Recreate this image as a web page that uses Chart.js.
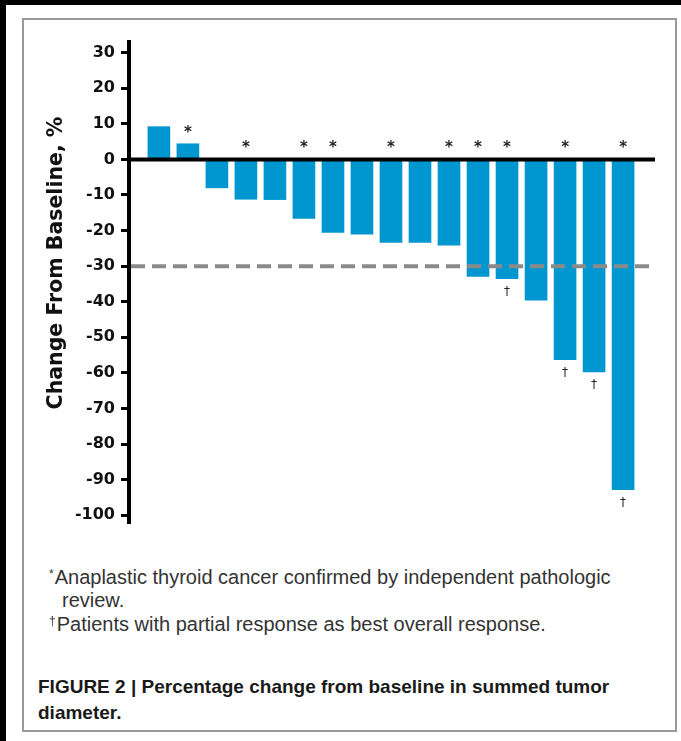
<!DOCTYPE html>
<html>
<head>
<meta charset="utf-8">
<script src="https://cdn.jsdelivr.net/npm/chart.js@4.4.1/dist/chart.umd.min.js"></script>
<style>
  html, body { margin: 0; padding: 0; background: #fff; }
  body { width: 681px; height: 741px; position: relative; overflow: hidden; }
  .band-top { position: absolute; left: 0; top: 0; width: 681px; height: 5px; background: #000; }
  .band-left { position: absolute; left: 0; top: 0; width: 6px; height: 741px; background: #000; }
  .frame { position: absolute; left: 22px; top: 18px; width: 651px; height: 710px; border: 2px solid #9a9a9a; }
  #wrap { position: absolute; left: 0; top: 0; width: 681px; height: 560px; }
  .ytitle {
    position: absolute; left: 55px; top: 263px;
    transform: translate(-50%, -50%) rotate(-90deg);
    font: bold 20.5px "DejaVu Sans", sans-serif; color: #111; white-space: nowrap;
  }
  .note { position: absolute; font: 20px "Liberation Sans", Arial, sans-serif; line-height: 23px; color: #333; white-space: nowrap; }
  .note sup { font-size: 12px; vertical-align: 0; position: relative; top: -6px; margin-right: 1px; }
  .caption { position: absolute; font: bold 19px "Liberation Sans", Arial, sans-serif; line-height: 22px; color: #1a1a1a; white-space: nowrap; }
</style>
</head>
<body>
<div class="band-top"></div>
<div class="band-left"></div>
<div class="frame"></div>
<div id="wrap"><canvas id="chart" width="681" height="560"></canvas></div>
<div class="ytitle">Change From Baseline, %</div>
<div class="note" style="left:49px; top:566px;"><sup>*</sup>Anaplastic thyroid cancer confirmed by independent pathologic</div>
<div class="note" style="left:62px; top:589px;">review.</div>
<div class="note" style="left:49px; top:613px;"><sup>†</sup>Patients with partial response as best overall response.</div>
<div class="caption" style="left:38px; top:676px;">FIGURE 2 | Percentage change from baseline in summed tumor</div>
<div class="caption" style="left:38px; top:702px;">diameter.</div>
<script>
// Patients ordered by best change in summed tumor diameter
const patientNumbers = [1, 2, 3, 4, 5, 6, 7, 8, 9, 10, 11, 12, 13, 14, 15, 16, 17];
const changeFromBaseline = [9.2, 4.4, -8.0, -11.2, -11.3, -16.6, -20.5, -21.0, -23.3, -23.3, -24.1, -32.9, -33.5, -39.6, -56.3, -59.7, -92.8];
// * anaplastic thyroid cancer confirmed by independent pathologic review
const anaplasticConfirmed = [false, true, false, true, false, true, true, false, true, false, true, true, true, false, true, false, true];
// † partial response as best overall response
const partialResponse = [false, false, false, false, false, false, false, false, false, false, false, false, true, false, true, true, true];
const yTickValues = [30, 20, 10, 0, -10, -20, -30, -40, -50, -60, -70, -80, -90, -100];
const responseThreshold = -30;

const barPoints = patientNumbers.map((p, i) => ({ x: p, y: changeFromBaseline[i] }));

// Zero line, dashed -30% threshold line and the */† markers
const annotations = {
  id: 'annotations',
  afterDatasetsDraw(chart) {
    const { ctx, chartArea: a, scales: { x, y } } = chart;
    ctx.save();
    // threshold line
    const yt = y.getPixelForValue(responseThreshold);
    ctx.strokeStyle = '#8a8a8a';
    ctx.lineWidth = 4;
    ctx.setLineDash([14, 7]);
    ctx.beginPath();
    ctx.moveTo(a.left + 2, yt);
    ctx.lineTo(a.right, yt);
    ctx.stroke();
    // zero line
    const y0 = y.getPixelForValue(0);
    ctx.setLineDash([]);
    ctx.strokeStyle = '#000';
    ctx.lineWidth = 4;
    ctx.beginPath();
    ctx.moveTo(a.left, y0);
    ctx.lineTo(a.right, y0);
    ctx.stroke();
    // markers
    ctx.fillStyle = '#222';
    ctx.textAlign = 'center';
    ctx.textBaseline = 'middle';
    patientNumbers.forEach((p, i) => {
      const px = x.getPixelForValue(p);
      const v = changeFromBaseline[i];
      if (anaplasticConfirmed[i]) {
        ctx.font = 'bold 15px "DejaVu Sans", sans-serif';
        ctx.fillText('*', px, Math.min(y.getPixelForValue(v), y0) - 11);
      }
      if (partialResponse[i]) {
        ctx.font = '12px "DejaVu Sans", sans-serif';
        ctx.fillText('†', px, Math.max(y.getPixelForValue(v), y0) + 13);
      }
    });
    ctx.restore();
  }
};

new Chart(document.getElementById('chart'), {
  type: 'bar',
  data: {
    datasets: [{
      data: barPoints,
      backgroundColor: '#0097d1',
      borderWidth: 0,
      barThickness: 22
    }]
  },
  options: {
    responsive: false,
    devicePixelRatio: 1,
    animation: false,
    layout: { padding: { top: 42, bottom: 37, left: 0, right: 26 } },
    plugins: { legend: { display: false }, tooltip: { enabled: false } },
    scales: {
      x: {
        type: 'linear',
        min: -0.03,
        max: 18.1,
        offset: false,
        display: false
      },
      y: {
        min: -102.2,
        max: 33,
        afterBuildTicks(scale) { scale.ticks = yTickValues.map(v => ({ value: v })); },
        afterFit(scale) { scale.width = 129; },
        border: { display: true, color: '#000', width: 4 },
        grid: {
          drawOnChartArea: false,
          drawTicks: true,
          tickLength: 8,
          tickWidth: 3,
          tickColor: '#000'
        },
        ticks: {
          padding: 6,
          color: '#111',
          font: { family: '"DejaVu Sans", sans-serif', weight: 'bold', size: 16 }
        }
      }
    }
  },
  plugins: [annotations]
});
</script>
</body>
</html>
